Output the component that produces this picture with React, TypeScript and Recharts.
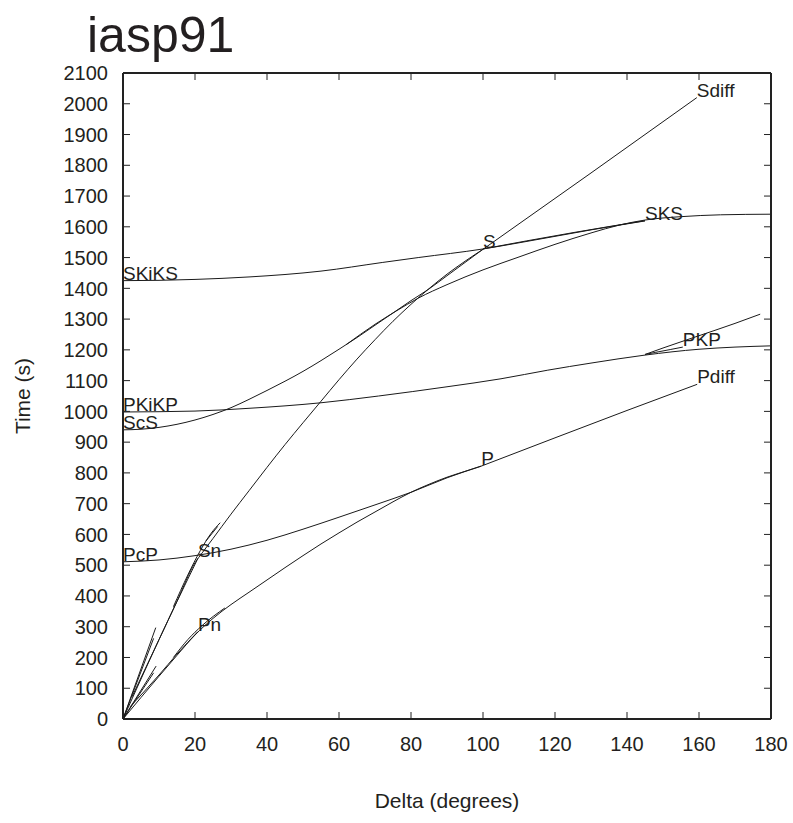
import React from 'react';
import { LineChart, Line, XAxis, YAxis, Label } from 'recharts';

type Pt = [number, number];

const FONT = '"Liberation Sans", Arial, Helvetica, sans-serif';
const INK = '#231f20';
const AXIS = '#222';

// axis ticks
const degreeTicks = [0, 20, 40, 60, 80, 100, 120, 140, 160, 180];
const timeTicks = [0, 100, 200, 300, 400, 500, 600, 700, 800, 900, 1000, 1100, 1200, 1300, 1400, 1500, 1600, 1700, 1800, 1900, 2000, 2100];

// travel time branches, [distance in degrees, time in s]
const pDirect: Pt[] = [[0, 0], [5, 70], [10, 139], [15, 207], [20, 273], [25, 327], [30, 372], [35, 412], [40, 452], [45, 492], [50, 531], [55, 569], [60, 605], [65, 640], [70, 673], [75, 706], [80, 737], [85, 763], [90, 786], [95, 805], [99.5, 822]];
const pDiff: Pt[] = [[99.5, 822], [120, 914], [140, 1003], [159.5, 1088]];
const pcp: Pt[] = [[0, 511], [10, 517], [20, 531], [30, 552], [40, 581], [50, 617], [60, 656], [70, 696], [80, 737], [90, 784], [99.5, 822]];
const pkikp: Pt[] = [[0, 998], [20, 1001], [35, 1010], [55, 1028], [71, 1050], [90, 1080], [105, 1106], [118, 1134], [130, 1157], [145, 1183], [160, 1202], [170, 1209], [180, 1213]];
const pkpAB: Pt[] = [[145, 1185], [150, 1206], [160, 1246], [170, 1286], [177, 1316]];
const pkpBC: Pt[] = [[145, 1185], [148, 1192], [152, 1201], [155.5, 1209]];
const pn: Pt[] = [[2, 40], [10, 143], [15, 211], [20.8, 284]];
const pBranch: Pt[] = [[14, 200], [18, 258], [22, 304], [28.3, 361]];
const pg: Pt[] = [[0, 0], [9.2, 172]];
const pb: Pt[] = [[0, 0], [8.5, 150]];

const sDirect: Pt[] = [[0, 0], [10, 258], [15, 383], [20, 508], [22, 540], [25, 587], [30, 666], [35, 742], [40, 818], [45, 892], [50, 963], [55, 1033], [60, 1103], [65, 1170], [70, 1233], [75, 1293], [80, 1348], [85, 1399], [90, 1446], [95, 1488], [100, 1527]];
const sDiff: Pt[] = [[100, 1527], [130, 1775], [159.4, 2020]];
const scs: Pt[] = [[0, 940], [5, 942], [10, 948], [15, 958], [20, 972], [25, 990], [30, 1012], [35, 1039], [40, 1068], [45, 1098], [50, 1130], [55, 1165], [60, 1202], [65, 1240], [70, 1280], [75, 1320], [80, 1360], [85, 1398], [90, 1441], [95, 1484], [100, 1527]];
const sks: Pt[] = [[62, 1217], [70, 1283], [76, 1327], [82, 1368], [90, 1412], [100, 1460], [110, 1502], [120, 1543], [130, 1580], [138, 1606], [145, 1622], [155, 1633], [166, 1639], [180, 1641]];
const skiks: Pt[] = [[0, 1425], [10, 1426], [20, 1429], [35, 1437], [55, 1456], [72, 1484], [82, 1500], [100, 1528], [110, 1548], [120, 1569], [130, 1590], [145, 1619]];
const sksUpper: Pt[] = [[100, 1528], [112, 1554], [125, 1581], [145, 1620]];
const sn: Pt[] = [[2.5, 72], [10, 258], [15, 382], [20.8, 522]];
const sBranchA: Pt[] = [[14, 365], [18, 468], [21.5, 548], [24.5, 604], [27, 638]];
const sBranchB: Pt[] = [[23, 578], [26.3, 626]];
const sg: Pt[] = [[0, 0], [9.1, 297]];
const sb: Pt[] = [[0, 0], [8.5, 262]];

interface Branch {
  id: string;
  pts: Pt[];
  label?: string;
  at?: 'first' | 'last';
  straight?: boolean;
}

const branches: Branch[] = [
  { id: 'P', pts: pDirect, label: 'P', at: 'last' },
  { id: 'Pdiff', pts: pDiff, label: 'Pdiff', at: 'last', straight: true },
  { id: 'PcP', pts: pcp, label: 'PcP', at: 'first' },
  { id: 'PKiKP', pts: pkikp, label: 'PKiKP', at: 'first' },
  { id: 'PKPab', pts: pkpAB },
  { id: 'PKPbc', pts: pkpBC, label: 'PKP', at: 'last' },
  { id: 'Pn', pts: pn, label: 'Pn', at: 'last' },
  { id: 'Pbr', pts: pBranch },
  { id: 'Pg', pts: pg, straight: true },
  { id: 'Pb', pts: pb, straight: true },
  { id: 'S', pts: sDirect, label: 'S', at: 'last' },
  { id: 'Sdiff', pts: sDiff, label: 'Sdiff', at: 'last', straight: true },
  { id: 'ScS', pts: scs, label: 'ScS', at: 'first' },
  { id: 'SKS', pts: sks },
  { id: 'SKiKS', pts: skiks, label: 'SKiKS', at: 'first' },
  { id: 'SKSup', pts: sksUpper, label: 'SKS', at: 'last' },
  { id: 'Sn', pts: sn, label: 'Sn', at: 'last' },
  { id: 'SbrA', pts: sBranchA },
  { id: 'SbrB', pts: sBranchB, straight: true },
  { id: 'Sg', pts: sg, straight: true },
  { id: 'Sb', pts: sb, straight: true },
];

const toRows = (pts: Pt[]) => pts.map(([x, t]) => ({ x, t }));

function phaseLabel(text: string, idx: number) {
  return (props: any) => {
    const { cx, cy, index } = props;
    if (index !== idx || cx == null || cy == null) return <g key={`lbl-${index}`} />;
    return (
      <text key={`lbl-${index}`} x={cx} y={cy - 1} fontSize={19} fill={INK} fontFamily={FONT}>
        {text}
      </text>
    );
  };
}

const TICK_LEN = 7;
const LEFT_GAP = 15;
const BOTTOM_GAP = 18;

// inward tick marks plus labels
const LeftTick = (props: any) => {
  const { x, y, payload } = props;
  const ax = x + LEFT_GAP;
  return (
    <g>
      <line x1={ax} x2={ax + TICK_LEN} y1={y} y2={y} stroke={AXIS} strokeWidth={1} />
      <text x={x} y={y} dy="0.36em" textAnchor="end" fontSize={20} fill={INK} fontFamily={FONT}>
        {payload.value}
      </text>
    </g>
  );
};

const BottomTick = (props: any) => {
  const { x, y, payload } = props;
  const ay = y - BOTTOM_GAP;
  return (
    <g>
      <line x1={x} x2={x} y1={ay} y2={ay - TICK_LEN} stroke={AXIS} strokeWidth={1} />
      <text x={x} y={y} dy="0.71em" textAnchor="middle" fontSize={20} fill={INK} fontFamily={FONT}>
        {payload.value}
      </text>
    </g>
  );
};

const TopTick = (props: any) => {
  const { x, y } = props;
  return <line x1={x} x2={x} y1={y} y2={y + TICK_LEN} stroke={AXIS} strokeWidth={1} />;
};

const RightTick = (props: any) => {
  const { x, y } = props;
  return <line x1={x} x2={x - TICK_LEN} y1={y} y2={y} stroke={AXIS} strokeWidth={1} />;
};

const frame = { stroke: AXIS, strokeWidth: 2 };

export default function App() {
  return (
    <div style={{ position: 'absolute', left: 0, top: 0, width: 793, height: 823, background: '#fff' }}>
      <LineChart width={793} height={823} margin={{ top: 72, right: 21, bottom: 74, left: 63 }}>
        <XAxis
          xAxisId="b"
          type="number"
          dataKey="x"
          domain={[0, 180]}
          ticks={degreeTicks}
          interval={0}
          allowDataOverflow
          height={30}
          tickSize={0}
          tickMargin={BOTTOM_GAP}
          tick={BottomTick}
          axisLine={frame}
          tickLine={false}
        >
          <Label
            content={({ viewBox }: any) => (
              <text
                x={viewBox.x + viewBox.width / 2}
                y={800}
                textAnchor="middle"
                dominantBaseline="central"
                fontSize={21}
                fill={INK}
                fontFamily={FONT}
              >
                Delta (degrees)
              </text>
            )}
          />
        </XAxis>
        <XAxis
          xAxisId="t"
          orientation="top"
          type="number"
          dataKey="x"
          domain={[0, 180]}
          ticks={degreeTicks}
          interval={0}
          allowDataOverflow
          height={1}
          tickSize={0}
          tickMargin={0}
          tick={TopTick}
          axisLine={frame}
          tickLine={false}
        />
        <YAxis
          yAxisId="l"
          type="number"
          dataKey="t"
          domain={[0, 2100]}
          ticks={timeTicks}
          interval={0}
          allowDataOverflow
          width={60}
          tickSize={0}
          tickMargin={LEFT_GAP}
          tick={LeftTick}
          axisLine={frame}
          tickLine={false}
        >
          <Label
            content={({ viewBox }: any) => {
              const cx = 22;
              const cy = viewBox.y + viewBox.height / 2;
              return (
                <text
                  x={cx}
                  y={cy}
                  transform={`rotate(-90 ${cx} ${cy})`}
                  textAnchor="middle"
                  dominantBaseline="central"
                  fontSize={21}
                  fill={INK}
                  fontFamily={FONT}
                >
                  Time (s)
                </text>
              );
            }}
          />
        </YAxis>
        <YAxis
          yAxisId="r"
          orientation="right"
          type="number"
          dataKey="t"
          domain={[0, 2100]}
          ticks={timeTicks}
          interval={0}
          allowDataOverflow
          width={1}
          tickSize={0}
          tickMargin={0}
          tick={RightTick}
          axisLine={frame}
          tickLine={false}
        />
        <Line
          xAxisId="t"
          yAxisId="r"
          data={toRows(skiks)}
          dataKey="t"
          stroke="none"
          strokeOpacity={0}
          dot={false}
          activeDot={false}
          legendType="none"
          isAnimationActive={false}
        />
        {branches.map((b) => (
          <Line
            key={b.id}
            xAxisId="b"
            yAxisId="l"
            data={toRows(b.pts)}
            dataKey="t"
            type={b.straight ? 'linear' : 'monotone'}
            stroke="#1a1a1a"
            strokeWidth={1}
            dot={b.label ? phaseLabel(b.label, b.at === 'first' ? 0 : b.pts.length - 1) : false}
            activeDot={false}
            isAnimationActive={false}
          />
        ))}
      </LineChart>
      <svg width={793} height={70} style={{ position: 'absolute', left: 0, top: 0 }}>
        <text x={87} y={52} fontSize={50} fill={INK} fontFamily={FONT}>
          iasp91
        </text>
      </svg>
    </div>
  );
}
